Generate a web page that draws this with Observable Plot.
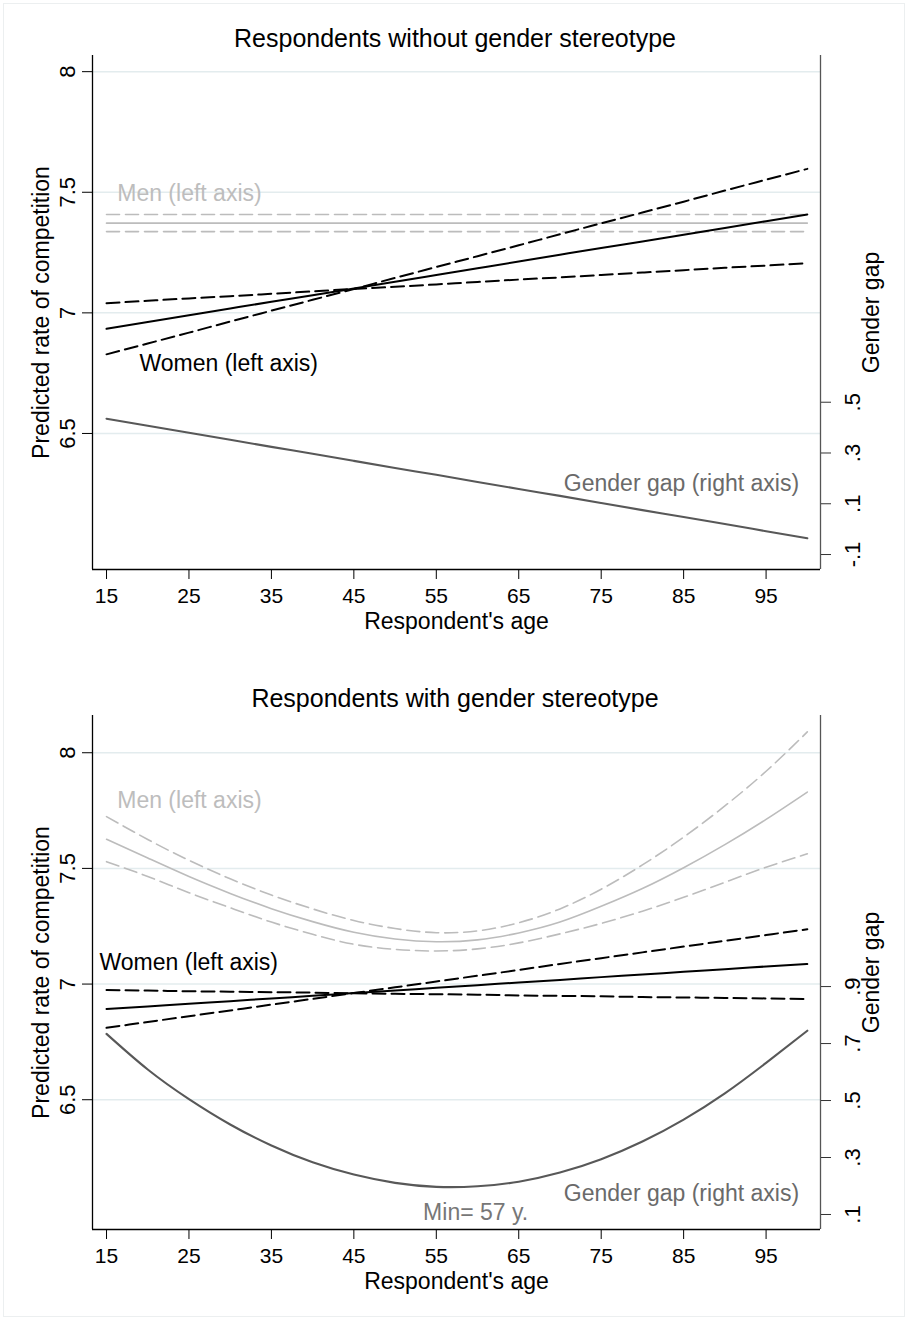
<!DOCTYPE html>
<html><head><meta charset="utf-8">
<script src="https://cdn.jsdelivr.net/npm/d3@7"></script>
<script src="https://cdn.jsdelivr.net/npm/@observablehq/plot@0.6"></script>
<style>
body{margin:0;background:#fff;font-family:"Liberation Sans",Arial,sans-serif;}
#wrap{position:relative;width:910px;height:1320px;overflow:hidden;}
#border{position:absolute;left:3px;top:3px;width:902px;height:1314px;border:1px solid #eceff0;box-sizing:border-box;pointer-events:none;}
.title{height:50px;box-sizing:border-box;padding-top:26px;font-size:25px;line-height:1;text-align:center;color:#000;}
.panel{height:660px;}
svg{display:block;}
</style></head><body><div id="wrap"><div id="border"></div></div>
<script>
// ---------- data ----------
const ages = [15,20,25,30,35,40,45,50,55,60,65,70,75,80,85,90,95,100];
const xTicks = [15,25,35,45,55,65,75,85,95];
const leftTicks = [6.5,7,7.5,8];
const leftTickLabels = ["6.5","7","7.5","8"];

// Panel 1: respondents without gender stereotype
const title1 = "Respondents without gender stereotype";
const men1    = [7.372,7.372,7.372,7.372,7.372,7.372,7.372,7.372,7.372,7.372,7.372,7.372,7.372,7.372,7.372,7.372,7.372,7.372];
const men1Hi  = [7.408,7.408,7.408,7.408,7.408,7.408,7.408,7.408,7.408,7.408,7.408,7.408,7.408,7.408,7.408,7.408,7.408,7.408];
const men1Lo  = [7.337,7.337,7.337,7.337,7.337,7.337,7.337,7.337,7.337,7.337,7.337,7.337,7.337,7.337,7.337,7.337,7.337,7.337];
const women1   = [6.934,6.962,6.990,7.018,7.046,7.073,7.101,7.129,7.157,7.185,7.213,7.241,7.269,7.296,7.324,7.352,7.380,7.408];
const women1A  = [6.828,6.873,6.918,6.964,7.009,7.054,7.099,7.145,7.190,7.235,7.280,7.326,7.371,7.416,7.461,7.507,7.552,7.597];
const women1B  = [7.040,7.050,7.060,7.069,7.079,7.089,7.099,7.108,7.118,7.128,7.138,7.147,7.157,7.167,7.177,7.187,7.196,7.206];
const gap1     = [0.435,0.407,0.380,0.352,0.324,0.297,0.269,0.241,0.214,0.186,0.158,0.131,0.103,0.075,0.048,0.020,-0.008,-0.036];
const gapTicks1 = [-0.1,0.1,0.3,0.5];
const gapTickLabels1 = ["-.1",".1",".3",".5"];
const yDomain1 = [5.936, 8.067];
const gapDomain1 = [-0.159, 1.866];
const notes1 = [
  {age:16.3, v:7.496, text:"Men (left axis)", anchor:"start", color:"#bdbdbd"},
  {age:19.0, v:6.789, text:"Women (left axis)", anchor:"start", color:"#000000"},
  {age:99.0, v:6.292, text:"Gender gap (right axis)", anchor:"end", color:"#6a6a6a"}
];

// Panel 2: respondents with gender stereotype
const title2 = "Respondents with gender stereotype";
const men2    = [7.626,7.545,7.465,7.392,7.326,7.270,7.224,7.195,7.183,7.191,7.221,7.268,7.336,7.413,7.503,7.603,7.712,7.830];
const men2Hi  = [7.724,7.625,7.535,7.455,7.385,7.325,7.275,7.240,7.222,7.230,7.265,7.325,7.410,7.515,7.635,7.770,7.920,8.090];
const men2Lo  = [7.529,7.465,7.395,7.330,7.268,7.215,7.172,7.150,7.143,7.152,7.178,7.217,7.262,7.315,7.375,7.440,7.505,7.563];
const women2   = [6.892,6.903,6.915,6.926,6.938,6.949,6.961,6.972,6.984,6.995,7.007,7.018,7.030,7.041,7.053,7.064,7.076,7.087];
const women2A  = [6.811,6.836,6.861,6.886,6.911,6.936,6.961,6.986,7.011,7.036,7.061,7.087,7.112,7.137,7.162,7.187,7.212,7.237];
const women2B  = [6.974,6.972,6.969,6.967,6.965,6.963,6.960,6.958,6.956,6.954,6.951,6.949,6.947,6.944,6.942,6.940,6.938,6.935];
const gap2     = [0.734,0.609,0.505,0.416,0.342,0.283,0.240,0.211,0.197,0.199,0.215,0.247,0.294,0.356,0.433,0.525,0.632,0.745];
const gapTicks2 = [0.1,0.3,0.5,0.7,0.9];
const gapTickLabels2 = [".1",".3",".5",".7",".9"];
const yDomain2 = [5.939, 8.161];
const gapDomain2 = [0.0473, 1.8515];
const notes2 = [
  {age:16.3, v:7.793, text:"Men (left axis)", anchor:"start", color:"#bdbdbd"},
  {age:14.15, v:7.092, text:"Women (left axis)", anchor:"start", color:"#000000"},
  {age:99.0, v:6.095, text:"Gender gap (right axis)", anchor:"end", color:"#6a6a6a"},
  {age:53.4, v:6.014, text:"Min= 57 y.", anchor:"start", color:"#777777"}
];

const xDomain = [13.3, 101.6];
const FONT = "'Liberation Sans', Arial, sans-serif";

function panel(cfg) {
  const g2l = d3.scaleLinear(cfg.gapDomain, cfg.yDomain);
  const rows = vals => ages.map((a, i) => ({age: a, v: vals[i]}));
  const gapRows = ages.map((a, i) => ({age: a, v: g2l(cfg.gap[i])}));
  const rightTicks = cfg.gapTicks.map(g => g2l(g));
  const rightLabel = new Map(rightTicks.map((t, i) => [t, cfg.gapTickLabels[i]]));
  const leftLabel = new Map(leftTicks.map((t, i) => [t, leftTickLabels[i]]));
  const grey = "#bcbcbc";
  const notesStart = cfg.notes.filter(d => d.anchor === "start");
  const notesEnd = cfg.notes.filter(d => d.anchor === "end");
  return Plot.plot({
    width: 910, height: 610,
    marginTop: 5, marginBottom: 91, marginLeft: 92, marginRight: 90,
    style: {fontFamily: FONT, background: "#fff", color: "#000"},
    x: {domain: xDomain},
    y: {domain: cfg.yDomain},
    color: {type: "identity"},
    marks: [
      Plot.gridY(leftTicks, {stroke: "#e3ecee", strokeOpacity: 1, strokeWidth: 1.5}),
      // men
      Plot.line(rows(cfg.menHi), {x: "age", y: "v", stroke: grey, strokeWidth: 1.6, strokeDasharray: "13,6", curve: "natural"}),
      Plot.line(rows(cfg.menLo), {x: "age", y: "v", stroke: grey, strokeWidth: 1.6, strokeDasharray: "13,6", curve: "natural"}),
      Plot.line(rows(cfg.men), {x: "age", y: "v", stroke: grey, strokeWidth: 1.6, curve: "natural"}),
      // women
      Plot.line(rows(cfg.womenA), {x: "age", y: "v", stroke: "#000", strokeWidth: 2, strokeDasharray: "13,6", curve: "natural"}),
      Plot.line(rows(cfg.womenB), {x: "age", y: "v", stroke: "#000", strokeWidth: 2, strokeDasharray: "13,6", curve: "natural"}),
      Plot.line(rows(cfg.women), {x: "age", y: "v", stroke: "#000", strokeWidth: 2, curve: "natural"}),
      // gap (right axis)
      Plot.line(gapRows, {x: "age", y: "v", stroke: "#585858", strokeWidth: 2.1, curve: "natural"}),
      // frame lines
      Plot.ruleX([xDomain[0]], {stroke: "#000", strokeWidth: 1.3}),
      Plot.ruleX([xDomain[1]], {stroke: "#555", strokeWidth: 1.3}),
      Plot.ruleY([cfg.yDomain[0]], {stroke: "#000", strokeWidth: 1.3}),
      // axes
      Plot.axisX(xTicks, {anchor: "bottom", tickSize: 10, tickPadding: 9, fontSize: 21, label: null, tickFormat: d => String(d)}),
      Plot.axisY(leftTicks, {anchor: "left", tickSize: 10, tickPadding: 8, tickRotate: -90, fontSize: 22, label: null, tickFormat: d => leftLabel.get(d)}),
      Plot.axisY(rightTicks, {anchor: "right", tickSize: 10, tickPadding: 14, tickRotate: -90, lineAnchor: "top", fontSize: 22, label: null, stroke: "#333", tickFormat: d => rightLabel.get(d)}),
      // axis titles
      Plot.text(["Respondent's age"], {text: d => d, frameAnchor: "bottom", dy: 52, lineAnchor: "middle", textAnchor: "middle", fontSize: 23, fill: "#000"}),
      Plot.text(["Predicted rate of competition"], {text: d => d, frameAnchor: "left", dx: -60, rotate: -90, lineAnchor: "top", textAnchor: "middle", fontSize: 23, fill: "#000"}),
      Plot.text(["Gender gap"], {text: d => d, frameAnchor: "right", dx: 42, rotate: -90, lineAnchor: "top", textAnchor: "middle", fontSize: 23, fill: "#000"}),
      // annotations
      Plot.text(notesStart, {x: "age", y: "v", text: "text", textAnchor: "start", fill: "color", fontSize: 23, lineAnchor: "middle"}),
      Plot.text(notesEnd, {x: "age", y: "v", text: "text", textAnchor: "end", fill: "color", fontSize: 23, lineAnchor: "middle"})
    ]
  });
}

function addPanel(title, cfg) {
  const p = document.createElement("div");
  p.className = "panel";
  const t = document.createElement("div");
  t.className = "title";
  t.textContent = title;
  p.appendChild(t);
  p.appendChild(panel(cfg));
  document.getElementById("wrap").appendChild(p);
}

addPanel(title1, {men: men1, menHi: men1Hi, menLo: men1Lo, women: women1, womenA: women1A, womenB: women1B,
  gap: gap1, gapTicks: gapTicks1, gapTickLabels: gapTickLabels1, yDomain: yDomain1, gapDomain: gapDomain1, notes: notes1});
addPanel(title2, {men: men2, menHi: men2Hi, menLo: men2Lo, women: women2, womenA: women2A, womenB: women2B,
  gap: gap2, gapTicks: gapTicks2, gapTickLabels: gapTickLabels2, yDomain: yDomain2, gapDomain: gapDomain2, notes: notes2});
</script></body></html>
